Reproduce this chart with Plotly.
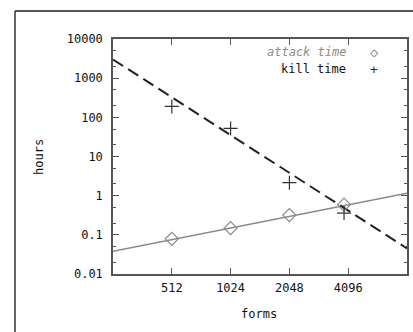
import plotly.graph_objects as go

forms = [512, 1024, 2048, 3900]
attack_time = [0.079, 0.148, 0.32, 0.59]
kill_time = [190, 52, 2.15, 0.36]

fit_x = [256, 8192]
attack_fit = [0.038, 1.15]
kill_fit = [3000, 0.045]

x_ticks = [512, 1024, 2048, 4096]
y_ticks = [0.01, 0.1, 1, 10, 100, 1000, 10000]
y_labels = ["0.01", "0.1", "1", "10", "100", "1000", "10000"]

FONT = "DejaVu Sans Mono"
GRAY = "#8a8a8a"
AXC = "#555555"
TXT = "#111111"

fig = go.Figure()
fig.add_trace(go.Scatter(x=fit_x, y=attack_fit, mode="lines",
                         line=dict(color=GRAY, width=1.6), showlegend=False))
fig.add_trace(go.Scatter(x=fit_x, y=kill_fit, mode="lines",
                         line=dict(color="#222222", width=2, dash="12px,6px"),
                         showlegend=False))
fig.add_trace(go.Scatter(x=forms, y=attack_time, mode="markers",
                         marker=dict(symbol="diamond-open", size=10, color=GRAY,
                                     line=dict(width=1.2, color=GRAY)),
                         showlegend=False))
fig.add_trace(go.Scatter(x=forms, y=kill_time, mode="markers",
                         marker=dict(symbol="cross-thin-open", size=10, color="#333333",
                                     line=dict(width=1.2, color="#333333")),
                         showlegend=False))

axis_common = dict(showline=True, linecolor=AXC, linewidth=1.5, mirror="ticks",
                   ticks="inside", tickcolor=AXC, tickwidth=1, ticklen=6,
                   showgrid=False, zeroline=False, automargin=False,
                   tickfont=dict(family=FONT, size=12, color=TXT))

fig.update_xaxes(type="log", range=[2.40824, 3.91339], tickmode="array",
                 tickvals=x_ticks, ticktext=[str(v) for v in x_ticks],
                 ticklabelstandoff=2,
                 **axis_common)
fig.update_yaxes(type="log", range=[-2, 4], tickmode="array",
                 tickvals=y_ticks, ticktext=y_labels, ticklabelstandoff=6,
                 minor=dict(ticks="inside", ticklen=3, tickcolor=AXC, dtick="D2",
                            showgrid=False),
                 **axis_common)

W, H = 413, 332
L, R, T, B = 113, 6, 39, 58
pw, ph = W - L - R, H - T - B
def px(xp):
    return (xp - L) / pw
def py(yp):
    return (H - B - yp) / ph

# axis titles
fig.add_annotation(xref="paper", yref="paper", x=px(259), y=py(314), xanchor="center",
                   yanchor="middle", text="forms", showarrow=False,
                   font=dict(family=FONT, size=12, color=TXT))
fig.add_annotation(xref="paper", yref="paper", x=px(39), y=py(157), xanchor="center",
                   yanchor="middle", text="hours", showarrow=False, textangle=-90,
                   font=dict(family=FONT, size=12, color=TXT))

# legend (gnuplot style: text right-aligned, sample on the right)
fig.add_annotation(xref="paper", yref="paper", x=px(347), y=py(52), xanchor="right",
                   yanchor="middle", text="<i>attack time</i>", showarrow=False,
                   borderpad=0, font=dict(family=FONT, size=12, color=GRAY))
fig.add_annotation(xref="paper", yref="paper", x=px(347), y=py(69), xanchor="right",
                   yanchor="middle", text="kill time", showarrow=False,
                   borderpad=0, font=dict(family=FONT, size=12, color=TXT))
fig.add_annotation(xref="paper", yref="paper", x=px(374), y=py(51.5), xanchor="center",
                   yanchor="middle", text="◇", showarrow=False, borderpad=0,
                   font=dict(family=FONT, size=14, color=GRAY))
fig.add_annotation(xref="paper", yref="paper", x=px(374), y=py(69.5), xanchor="center",
                   yanchor="middle", text="+", showarrow=False, borderpad=0,
                   font=dict(family=FONT, size=13, color="#333333"))

# outer frame (top and left edges)
fig.add_shape(type="line", xref="paper", yref="paper", x0=px(15), x1=px(415),
              y0=py(11), y1=py(11), line=dict(color="#555555", width=2))
fig.add_shape(type="line", xref="paper", yref="paper", x0=px(15), x1=px(15),
              y0=py(11), y1=py(335), line=dict(color="#333333", width=1.5))

fig.update_layout(width=W, height=H, margin=dict(l=L, r=R, t=T, b=B),
                  paper_bgcolor="white", plot_bgcolor="white",
                  font=dict(family=FONT, size=12), showlegend=False)

fig.write_html("out.html", config={"displayModeBar": False},
               post_script="document.body.style.margin='0';document.body.style.overflow='hidden';")
